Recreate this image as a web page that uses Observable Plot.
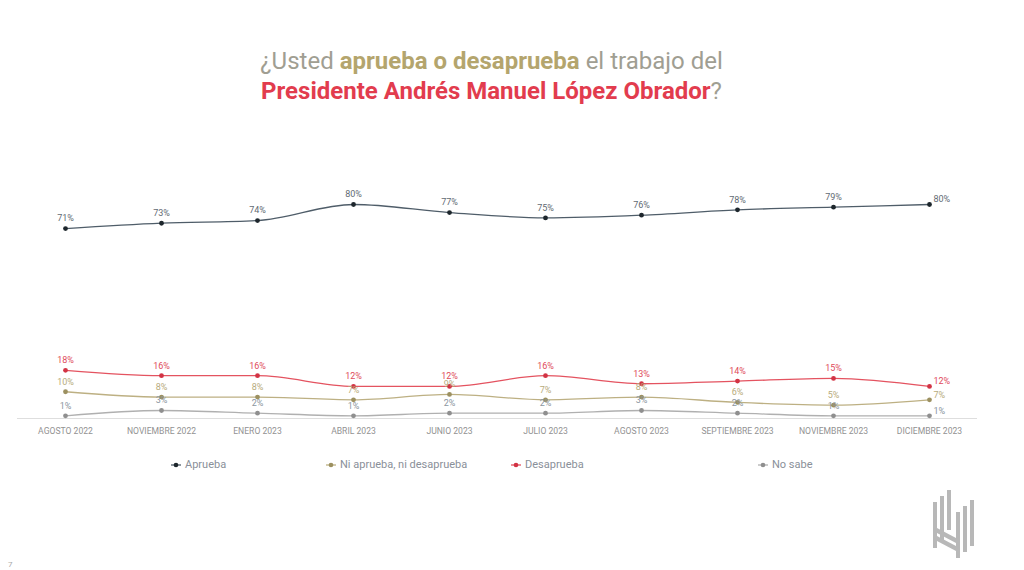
<!DOCTYPE html>
<html>
<head>
<meta charset="utf-8">
<script src="https://cdn.jsdelivr.net/npm/d3@7"></script>
<script src="https://cdn.jsdelivr.net/npm/@observablehq/plot@0.6"></script>
<style>
  html, body { margin: 0; padding: 0; background: #fff; }
  body { width: 1024px; height: 570px; position: relative; overflow: hidden; font-family: Roboto, "Noto Sans", sans-serif; }
  #title { position: absolute; left: 0; top: 46px; width: 983px; text-align: center; font-size: 24px; line-height: 30px; color: #a09e92; }
  #title .gold { color: #b4a56d; font-weight: 700; }
  #title .red { color: #e23c4e; font-weight: 700; }
  #chart { position: absolute; left: 0; top: 140px; }
  .leg { position: absolute; top: 458px; font-size: 11px; color: #8a9099; display: flex; align-items: center; gap: 3px; }
  #page { position: absolute; left: 8px; top: 560px; font-size: 8px; color: #aaa; }
  #logo { position: absolute; left: 930px; top: 488px; }
</style>
</head>
<body>
<div id="title">¿Usted <span class="gold">aprueba o desaprueba</span> el trabajo del<br><span class="red">Presidente Andrés Manuel López Obrador</span>?</div>
<div id="chart"></div>
<div id="legend"></div>
<div id="page">7</div>
<svg id="logo" width="52" height="72" viewBox="0 0 52 72">
  <g fill="#b8b8b8">
    <rect x="3" y="14" width="4" height="46"/>
    <rect x="10" y="8" width="4" height="46"/>
    <rect x="17" y="2" width="4" height="40"/>
    <rect x="26" y="24" width="4" height="46"/>
    <rect x="33" y="18" width="4" height="46"/>
    <rect x="40" y="12" width="4" height="46"/>
    <polygon points="7,40 26,50 26,55 7,45"/>
    <polygon points="7,48 26,58 26,63 7,53"/>
  </g>
</svg>
<script>
const meses = ["AGOSTO 2022","NOVIEMBRE 2022","ENERO 2023","ABRIL 2023","JUNIO 2023","JULIO 2023","AGOSTO 2023","SEPTIEMBRE 2023","NOVIEMBRE 2023","DICIEMBRE 2023"];
const aprueba    = [71,73,74,80,77,75,76,78,79,80];
const niNi       = [10,8,8,7,9,7,8,6,5,7];
const desaprueba = [18,16,16,12,12,16,13,14,15,12];
const noSabe     = [1,3,2,1,2,2,3,2,1,1];
const seriesNames = ["Aprueba","Ni aprueba, ni desaprueba","Desaprueba","No sabe"];
const seriesValues = [aprueba, niNi, desaprueba, noSabe];
const lineColors  = ["#4f5d69","#bdb083","#e45360","#b0b0b0"];
const dotColors   = ["#1d262c","#9c9060","#d23344","#8f8f8f"];
const labelColors = ["#5f6a73","#b7ab7b","#e04b5b","#8b96a0"];

const data = [];
seriesNames.forEach((s, si) => seriesValues[si].forEach((v, i) => data.push({serie: s, si, mes: meses[i], i, v})));
const last = data.filter(d => d.i === meses.length - 1);
const rest = data.filter(d => d.i !== meses.length - 1);

const plot = Plot.plot({
  width: 1024,
  height: 320,
  marginLeft: 17,
  marginRight: 47,
  marginTop: 64,
  marginBottom: 42,
  style: {fontFamily: "Roboto, sans-serif", background: "transparent", overflow: "visible"},
  x: {type: "point", domain: meses, padding: 0.5, label: null},
  y: {domain: [0, 80], axis: null},
  marks: [
    Plot.ruleY([0], {stroke: "#dedede", strokeWidth: 1}),
    Plot.axisX({tickSize: 0, tickPadding: 9, fontSize: 8.6, color: "#929292", label: null}),
    ...seriesNames.map((s, si) => Plot.line(data.filter(d => d.si === si), {x: "mes", y: "v", stroke: lineColors[si], strokeWidth: 1.3, curve: "monotone-x"})),
    ...seriesNames.map((s, si) => Plot.dot(data.filter(d => d.si === si), {x: "mes", y: "v", fill: dotColors[si], r: 2.4})),
    ...seriesNames.map((s, si) => Plot.text(rest.filter(d => d.si === si), {x: "mes", y: "v", text: d => d.v + "%", dy: -10, fill: labelColors[si], fontSize: 9})),
    ...seriesNames.map((s, si) => Plot.text(last.filter(d => d.si === si), {x: "mes", y: "v", text: d => d.v + "%", dx: 4, dy: -5, textAnchor: "start", fill: labelColors[si], fontSize: 9}))
  ]
});
document.getElementById("chart").appendChild(plot);

const legLefts = [170, 325, 510, 757];
const legend = document.getElementById("legend");
seriesNames.forEach((s, si) => {
  const el = document.createElement("div");
  el.className = "leg";
  el.style.left = legLefts[si] + "px";
  el.innerHTML = `<svg width="12" height="8"><line x1="1" y1="4" x2="11" y2="4" stroke="${lineColors[si]}" stroke-width="1.3"/><circle cx="6" cy="4" r="2.3" fill="${dotColors[si]}"/></svg><span>${s}</span>`;
  legend.appendChild(el);
});
</script>
</body>
</html>
